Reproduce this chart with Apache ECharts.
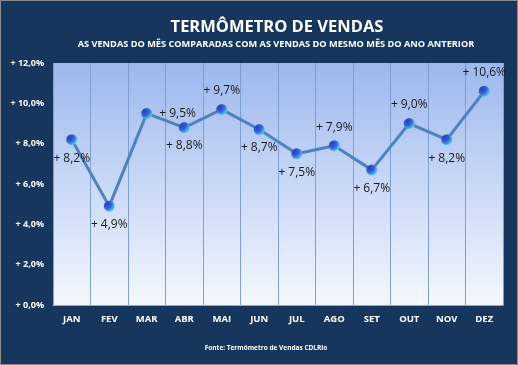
<!DOCTYPE html>
<html><head><meta charset="utf-8">
<script src="https://cdn.jsdelivr.net/npm/echarts@6/dist/echarts.min.js"></script>
<style>html,body{margin:0;padding:0;background:#fff}#c{width:518px;height:365px}</style>
</head><body><div id="c"></div>
<script>
const categories = ['JAN','FEV','MAR','ABR','MAI','JUN','JUL','AGO','SET','OUT','NOV','DEZ'];
const values = [8.2, 4.9, 9.5, 8.8, 9.7, 8.7, 7.5, 7.9, 6.7, 9.0, 8.2, 10.6];
const yTicks = { min: 0, max: 12, interval: 2 };
const titleText = 'TERMÔMETRO DE VENDAS';
const subtitleText = 'AS VENDAS DO MÊS COMPARADAS COM AS VENDAS DO MESMO MÊS DO ANO ANTERIOR';
const sourceText = 'Fonte: Termômetro de Vendas CDLRio';

const labelPos = ['bottom','bottom','right','bottom','top','bottom','bottom','top','bottom','top','bottom','top'];
const fmt = v => '+ ' + v.toFixed(1).replace('.', ',') + '%';

const chart = echarts.init(document.getElementById('c'));
chart.setOption({
  backgroundColor: '#17365D',
  graphic: [
    { type: 'text', x: 277, y: 27, z: 10,
      style: { text: titleText, fill: '#fff', font: 'bold 16.5px "Open Sans"', textAlign: 'center', textVerticalAlign: 'middle' } },
    { type: 'text', x: 276, y: 44, z: 10,
      style: { text: subtitleText, fill: '#fff', font: 'bold 9.2px "Open Sans"', textAlign: 'center', textVerticalAlign: 'middle' } },
    { type: 'text', x: 266, y: 348, z: 10,
      style: { text: sourceText, fill: '#fff', font: 'bold 6.5px "Open Sans"', textAlign: 'center', textVerticalAlign: 'middle' } },
    { type: 'rect', shape: { x: 0.5, y: 0.5, width: 517, height: 364 },
      style: { fill: 'none', stroke: '#8c8c8c', lineWidth: 1 }, z: 100 }
  ],
  grid: { left: 53, right: 15, top: 63, bottom: 60,
    show: true, borderWidth: 0,
    backgroundColor: { type: 'linear', x: 0, y: 0, x2: 0, y2: 1,
      colorStops: [{ offset: 0, color: '#9DB8EE' }, { offset: 1, color: '#F4F8FE' }] } },
  xAxis: { type: 'category', data: categories, boundaryGap: true,
    axisLine: { show: true, lineStyle: { color: '#8EA9D6', width: 1 } },
    axisTick: { show: false },
    axisLabel: { color: '#fff', fontWeight: 'bold', fontSize: 9.5, fontFamily: 'Open Sans', margin: 9 },
    splitLine: { show: true, lineStyle: { color: '#7F9FD3', width: 1 } } },
  yAxis: { type: 'value', min: yTicks.min, max: yTicks.max, interval: yTicks.interval,
    axisLine: { show: false }, axisTick: { show: false },
    splitLine: { show: false },
    axisLabel: { color: '#fff', fontWeight: 'bold', fontSize: 9, fontFamily: 'Open Sans', margin: 9,
      formatter: v => fmt(v) } },
  series: [{
    type: 'line', data: values.map((v, i) => ({ value: v, label: { position: labelPos[i] } })),
    lineStyle: { color: '#4F81BD', width: 3 },
    symbol: 'circle', symbolSize: 11,
    itemStyle: { color: { type: 'radial', x: 0.3, y: 0.3, r: 0.8,
      colorStops: [{ offset: 0, color: '#2440B8' }, { offset: 0.5, color: '#3563D8' }, { offset: 1, color: '#5FD8F0' }] },
      borderWidth: 0 },
    label: { show: true, color: '#1a1a1a', fontSize: 12, fontFamily: 'Open Sans', distance: 7,
      formatter: p => fmt(p.value) },
    animation: false
  }]
});
</script></body></html>
